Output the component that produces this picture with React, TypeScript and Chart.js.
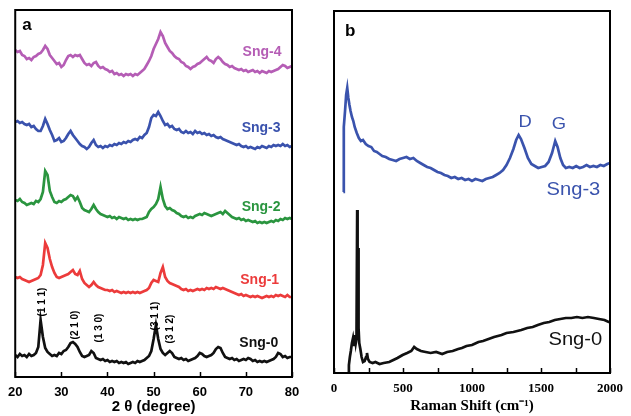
import React, { useEffect, useRef } from "react";
import { Chart, registerables } from "chart.js";
Chart.register(...registerables);

// ---------- Panel a: XRD (2θ in degree, intensity a.u., curves stacked) ----------
const xrdTheta = [
  20, 20.5, 21, 21.5, 22, 22.5, 23, 23.5, 24, 24.5,
  25, 25.5, 26, 26.5, 27, 27.5, 28, 28.5, 29, 29.5,
  30, 30.5, 31, 31.5, 32, 32.5, 33, 33.5, 34, 34.5,
  35, 35.5, 36, 36.5, 37, 37.5, 38, 38.5, 39, 39.5,
  40, 40.5, 41, 41.5, 42, 42.5, 43, 43.5, 44, 44.5,
  45, 45.5, 46, 46.5, 47, 47.5, 48, 48.5, 49, 49.5,
  50, 50.5, 51, 51.5, 52, 52.5, 53, 53.5, 54, 54.5,
  55, 55.5, 56, 56.5, 57, 57.5, 58, 58.5, 59, 59.5,
  60, 60.5, 61, 61.5, 62, 62.5, 63, 63.5, 64, 64.5,
  65, 65.5, 66, 66.5, 67, 67.5, 68, 68.5, 69, 69.5,
  70, 70.5, 71, 71.5, 72, 72.5, 73, 73.5, 74, 74.5,
  75, 75.5, 76, 76.5, 77, 77.5, 78, 78.5, 79, 79.5,
  80,
];

const xrdSng4 = [
  327, 325, 326, 322, 321, 318, 319, 317, 320, 321,
  323, 324, 327, 331, 328, 322, 319, 316, 313, 314,
  310, 312, 317, 321, 322, 320, 322, 321, 322, 318,
  314, 312, 313, 311, 314, 315, 311, 309, 310, 308,
  307, 305, 306, 303, 304, 302, 303, 301, 303, 302,
  303, 301, 303, 302, 304, 306, 308, 312, 316, 321,
  328, 333, 338, 345, 341, 334, 330, 326, 324, 321,
  319, 318, 315, 314, 311, 310, 308, 310, 311, 313,
  314, 316, 318, 320, 317, 316, 314, 318, 320, 318,
  315, 313, 312, 310, 311, 309, 308, 307, 308, 306,
  307, 305, 306, 307, 305, 306, 304, 306, 305, 304,
  306, 305, 306, 307, 308, 310, 312, 311, 309, 310,
  311,
];

const xrdSng3 = [
  255, 256, 254, 255, 253, 252, 253, 250, 251, 248,
  246, 246, 251, 258, 253, 247, 242, 236, 237, 239,
  235, 236, 239, 243, 246, 242, 239, 236, 233, 231,
  230, 228, 230, 234, 237, 232, 230, 231, 229, 231,
  230, 232, 231, 233, 232, 234, 233, 235, 234, 236,
  235, 237, 238, 237, 240, 239, 242, 244, 250, 259,
  262, 261, 265, 261, 256, 252, 253, 250, 251, 248,
  247, 248, 245, 244, 246, 244, 245, 243, 246, 244,
  245, 243, 244, 242, 243, 241, 242, 240, 239, 240,
  238, 237, 236, 235, 234, 233, 232, 233, 231, 230,
  231, 229, 230, 229, 228, 230, 229, 231, 230, 229,
  231, 230, 232, 231, 232, 231, 233, 231, 232, 230,
  231,
];

const xrdSng2 = [
  177, 176, 178, 175, 174, 172, 173, 174, 173, 176,
  175, 178, 185, 206, 202, 186, 180, 175, 174, 176,
  175, 177, 178, 180, 182, 181, 177, 180, 175, 169,
  167, 166, 165, 168, 172, 168, 165, 163, 162, 161,
  160, 161, 159, 160, 158, 160, 159, 158, 159, 157,
  158, 157, 158, 157, 158, 158, 159, 160, 165, 168,
  170, 173, 178, 190, 178, 171, 168, 169, 167, 166,
  164, 163, 161, 160, 161, 159, 160, 159, 161, 162,
  163, 162, 164, 163, 162, 161, 162, 163, 164, 165,
  163, 166, 164, 162, 160, 159, 158, 159, 157, 158,
  156, 157, 156, 155, 156, 154, 155, 154, 155, 154,
  155, 156, 155, 157, 156, 158, 157, 159, 158, 159,
  158,
];

const xrdSng1 = [
  100, 99, 100, 98, 97, 96, 95, 96, 97, 98,
  99, 102, 112, 134, 129, 118, 110, 104, 100, 99,
  100, 101, 102, 103, 105, 107, 103, 102, 106, 98,
  94, 92, 90, 92, 95, 92, 90, 89, 88, 87,
  87, 86, 87, 85, 86, 85, 84, 85, 84, 85,
  84, 85, 84, 85, 84, 85, 86, 87, 89, 94,
  97, 96, 95, 104, 110, 100, 96, 94, 93, 92,
  91, 90, 88, 87, 88, 86, 87, 86, 87, 88,
  87, 88, 87, 89, 88, 89, 88, 90, 89, 88,
  89, 88, 87, 86, 85, 84, 83, 82, 83, 81,
  82, 81, 80, 81, 80, 81, 80, 79, 80, 81,
  80, 81, 80, 82, 81, 82, 81, 80, 82, 80,
  80,
];

const xrdSng0 = [
  22, 20, 23, 21, 22, 20, 23, 21, 22, 24,
  30, 57, 40, 29, 25, 23, 21, 22, 21, 24,
  23, 26, 27, 30, 34, 35, 33, 30, 25, 21,
  20, 21, 22, 26, 24, 19, 18, 17, 18, 16,
  17, 15, 16, 15, 16, 14, 15, 14, 15, 13,
  14, 15, 14, 16, 15, 16, 17, 19, 21, 26,
  38, 52, 38, 28, 24, 22, 24, 26, 24, 20,
  19, 18, 19, 17, 18, 16, 17, 18, 19, 21,
  24, 23, 21, 20, 21, 22, 24, 28, 30, 29,
  24, 20, 19, 18, 19, 17, 18, 16, 17, 18,
  17, 19, 18, 16, 17, 15, 16, 15, 16, 15,
  16, 17, 18, 20, 24, 23, 20, 21, 19, 20,
  20,
];

const xrdNames = ["Sng-4", "Sng-3", "Sng-2", "Sng-1", "Sng-0"];
const xrdColors = ["#b55db5", "#3a52ad", "#2a953f", "#ec3b3b", "#111111"];
const xrdLabelTheta = [73.5, 73.3, 73.3, 73.0, 72.8];
const xrdLabelY = [325, 249, 170, 97, 34];

const millerLabels = ["(1 1 1)", "(2 1 0)", "(1 3 0)", "(3 1 1)", "(3 1 2)"];
const millerTheta = [25.8, 33.0, 38.2, 50.3, 53.6];
const millerY = [75, 52, 49, 61, 48];

const xrdTicks = [20, 30, 40, 50, 60, 70, 80];

// ---------- Panel b: Raman (shift in cm-1, intensity a.u.) ----------
const ramanShift3 = [
  68, 70, 72, 80, 88, 96, 104, 112, 120, 130, 140, 150, 165, 180, 195, 210, 230, 250, 270, 290,
  310, 330, 350, 375, 400, 425, 450, 475, 500, 525, 550, 575, 600, 625, 650, 675, 700, 725, 750, 775,
  800, 825, 850, 875, 900, 925, 950, 975, 1000, 1025, 1050, 1075, 1100, 1125, 1150, 1175, 1200, 1225, 1250, 1275,
  1300, 1320, 1338, 1355, 1380, 1405, 1430, 1455, 1480, 1505, 1530, 1555, 1580, 1603, 1620, 1640, 1660, 1680, 1705, 1730,
  1755, 1780, 1805, 1830, 1855, 1880, 1905, 1930, 1955, 1980, 2000,
];
const ramanSng3 = [
  181, 215, 246, 262, 278, 285, 275, 268, 262, 256, 252, 246, 240, 235, 232, 233, 229, 227, 226, 222,
  221, 219, 217, 216, 214, 213, 212, 214, 215, 216, 214, 215, 212, 210, 208, 206, 205, 203, 201, 200,
  198, 197, 195, 196, 194, 195, 193, 194, 192, 194, 193, 192, 194, 195, 196, 198, 200, 203, 208, 215,
  224, 233, 238, 234, 225, 215, 209, 207, 205, 206, 207, 211, 220, 232, 226, 215, 208, 205, 206, 205,
  207, 205, 206, 208, 206, 207, 206, 208, 207, 209, 210,
];

const ramanShift0 = [
  103, 108, 115, 122, 130, 138, 145, 152, 158, 163, 168, 171, 175, 178, 183, 191, 200, 210, 222, 232,
  239, 246, 258, 280, 300, 330, 360, 400, 430, 460, 497, 530, 560, 581, 600, 630, 664, 700, 740, 784,
  820, 860, 900, 927, 960, 1000, 1047, 1080, 1120, 1160, 1214, 1250, 1300, 1357, 1400, 1440, 1477, 1520, 1560, 1600,
  1640, 1680, 1720, 1760, 1800, 1840, 1883, 1920, 1960, 1990, 2000,
];
const ramanSng0 = [
  1, 8, 16, 22, 30, 35, 28, 38, 30, 34, 163, 60, 125, 45, 30, 24, 16, 11, 12, 16,
  20, 14, 11, 10, 11, 9, 10, 11, 13, 15, 18, 20, 22, 26, 24, 22, 21, 20, 21, 19,
  21, 22, 24, 25, 27, 28, 31, 32, 34, 36, 38, 40, 41, 43, 45, 46, 48, 50, 51, 53,
  54, 55, 55, 56, 55, 56, 55, 54, 53, 51, 51,
];

const ramanNames = ["Sng-3", "Sng-0"];
const ramanColors = ["#3a53ad", "#111111"];
const ramanLabelShift = [1735, 1749];
const ramanLabelY = [183, 33];
const bandLabels = ["D", "G"];
const bandShift = [1385, 1630];
const bandY = [251, 249];

const ramanTicks = [0, 500, 1000, 1500, 2000];
const ramanMinorTicks = [250, 750, 1250, 1750];

const pts = (xs: number[], ys: number[]) => xs.map((x, i) => ({ x, y: ys[i] }));

const framePlugin = {
  id: "frame",
  afterDraw(chart: any, _args: any, opts: any) {
    const { ctx, chartArea: ca, scales } = chart;
    const xs = scales.x;
    const ys = scales.y;
    ctx.save();
    ctx.strokeStyle = "#000";
    ctx.lineWidth = 2;
    ctx.strokeRect(ca.left, ca.top, ca.right - ca.left, ca.bottom - ca.top);
    ctx.lineWidth = 1.5;
    (opts.ticks || []).forEach((v: number) => {
      const px = Math.round(xs.getPixelForValue(v)) + 0.5;
      ctx.beginPath();
      ctx.moveTo(px, ca.bottom);
      ctx.lineTo(px, ca.bottom - 5);
      ctx.stroke();
    });
    (opts.texts || []).forEach((t: any) => {
      ctx.save();
      ctx.font = t.font;
      ctx.fillStyle = t.color;
      ctx.textAlign = t.align || "center";
      ctx.textBaseline = "middle";
      const px = t.abs ? ca.left + t.x : xs.getPixelForValue(t.x);
      const py = t.abs ? ca.top + t.y : ys.getPixelForValue(t.y);
      ctx.translate(px, py);
      if (t.rot) ctx.rotate(t.rot);
      if (t.sx) ctx.scale(t.sx, 1);
      ctx.fillText(t.text, 0, 0);
      ctx.restore();
    });
    ctx.restore();
  },
};

function makeXrd(canvas: HTMLCanvasElement) {
  const series = [xrdSng4, xrdSng3, xrdSng2, xrdSng1, xrdSng0].map((ys) => pts(xrdTheta, ys));
  const texts: any[] = [
    { text: "a", x: 7, y: 15, abs: true, align: "left", font: "bold 17px Arial, 'Liberation Sans'", color: "#000" },
  ];
  xrdNames.forEach((n, i) =>
    texts.push({ text: n, x: xrdLabelTheta[i], y: xrdLabelY[i], font: "bold 14px Arial, 'Liberation Sans'", color: xrdColors[i] })
  );
  millerLabels.forEach((m, i) =>
    texts.push({ text: m, x: millerTheta[i], y: millerY[i], rot: -Math.PI / 2, font: "bold 10px Arial, 'Liberation Sans'", color: "#000" })
  );
  return new Chart(canvas, {
    type: "line",
    data: {
      datasets: series.map((d, i) => ({
        label: xrdNames[i],
        data: d,
        borderColor: xrdColors[i],
        borderWidth: 2.7,
        pointRadius: 0,
        tension: 0,
      })),
    },
    options: {
      animation: false,
      responsive: false,
      maintainAspectRatio: false,
      layout: { padding: { left: 15, right: 23, top: 10, bottom: 0 } },
      plugins: {
        legend: { display: false },
        tooltip: { enabled: false },
        frame: { ticks: xrdTicks, texts },
      } as any,
      scales: {
        x: {
          type: "linear",
          min: 20,
          max: 80,
          afterBuildTicks: (s: any) => {
            s.ticks = xrdTicks.map((v) => ({ value: v }));
          },
          afterFit: (s: any) => {
            s.height = 39;
          },
          grid: { display: false, drawTicks: false },
          border: { display: false },
          ticks: { color: "#000", padding: 8, font: { family: "Arial, 'Liberation Sans'", size: 13, weight: "bold" } },
          title: {
            display: true,
            text: "2 θ (degree)",
            color: "#000",
            padding: { top: 0, bottom: 0 },
            font: { family: "Arial, 'Liberation Sans'", size: 15, weight: "bold" },
          },
        },
        y: { type: "linear", min: 0, max: 367, display: false },
      },
    },
    plugins: [framePlugin],
  } as any);
}

function makeRaman(canvas: HTMLCanvasElement) {
  const series = [pts(ramanShift3, ramanSng3), pts(ramanShift0, ramanSng0)];
  const texts: any[] = [
    { text: "b", x: 11, y: 20, abs: true, align: "left", font: "bold 17px Arial, 'Liberation Sans'", color: "#000" },
  ];
  ramanNames.forEach((n, i) =>
    texts.push({ text: n, x: ramanLabelShift[i], y: ramanLabelY[i], sx: 1.12, font: "18px Arial, 'Liberation Sans'", color: ramanColors[i] })
  );
  bandLabels.forEach((b, i) =>
    texts.push({ text: b, x: bandShift[i], y: bandY[i], sx: 1.08, font: "17px Arial, 'Liberation Sans'", color: ramanColors[0] })
  );
  return new Chart(canvas, {
    type: "line",
    data: {
      datasets: series.map((d, i) => ({
        label: ramanNames[i],
        data: d,
        borderColor: ramanColors[i],
        borderWidth: 2.7,
        pointRadius: 0,
        tension: 0,
      })),
    },
    options: {
      animation: false,
      responsive: false,
      maintainAspectRatio: false,
      layout: { padding: { left: 19, right: 18, top: 11, bottom: 0 } },
      plugins: {
        legend: { display: false },
        tooltip: { enabled: false },
        frame: { ticks: [...ramanTicks, ...ramanMinorTicks], texts },
      } as any,
      scales: {
        x: {
          type: "linear",
          min: 0,
          max: 2000,
          afterBuildTicks: (s: any) => {
            s.ticks = ramanTicks.map((v) => ({ value: v }));
          },
          afterFit: (s: any) => {
            s.height = 43;
          },
          grid: { display: false, drawTicks: false },
          border: { display: false },
          ticks: {
            color: "#000",
            padding: 8,
            callback: (v: any) => String(v),
            font: { family: "'Liberation Serif', 'Times New Roman', serif", size: 13, weight: "bold" },
          },
          title: {
            display: true,
            text: "Raman Shift (cm⁻¹)",
            color: "#000",
            padding: { top: 0, bottom: 1 },
            font: { family: "'Liberation Serif', 'Times New Roman', serif", size: 15, weight: "bold" },
          },
        },
        y: { type: "linear", min: 0, max: 362, display: false },
      },
    },
    plugins: [framePlugin],
  } as any);
}

export default function App() {
  const refA = useRef<HTMLCanvasElement>(null);
  const refB = useRef<HTMLCanvasElement>(null);
  useEffect(() => {
    const a = makeXrd(refA.current!);
    const b = makeRaman(refB.current!);
    return () => {
      a.destroy();
      b.destroy();
    };
  }, []);
  return (
    <div style={{ position: "fixed", left: 0, top: 0, width: 631, height: 416, background: "#fff" }}>
      <canvas ref={refA} width={315} height={416} style={{ position: "absolute", left: 0, top: 0, width: 315, height: 416 }} />
      <canvas ref={refB} width={316} height={416} style={{ position: "absolute", left: 315, top: 0, width: 316, height: 416 }} />
    </div>
  );
}
